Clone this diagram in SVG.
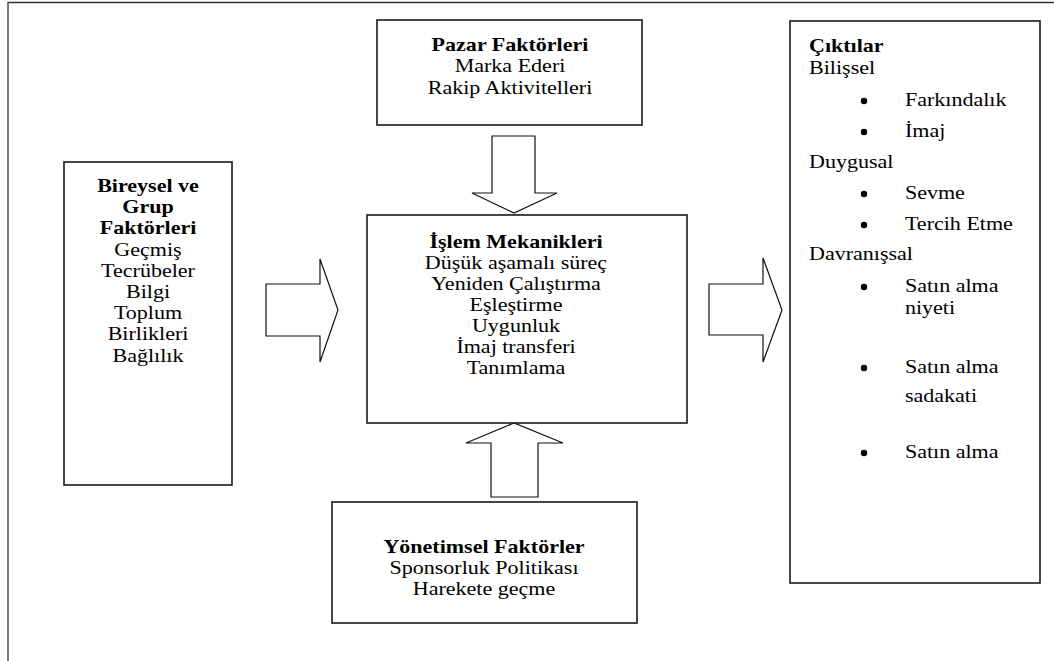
<svg xmlns="http://www.w3.org/2000/svg" width="1054" height="661" viewBox="0 0 1054 661">
  <style>
    .box { fill: #fff; stroke: #1a1a1a; stroke-width: 1.6; }
    .arrow { fill: #fff; stroke: #111; stroke-width: 1.2; stroke-linejoin: miter; }
    .frame { fill: none; stroke: #333; stroke-width: 1.3; }
    .t { font-family: "Liberation Serif", "Times New Roman", serif; font-size: 19px; fill: #000; }
    .c { text-anchor: middle; }
    .b { font-weight: bold; }
    .dot { fill: #000; }
  </style>

  <!-- page frame -->
  <path class="frame" d="M8,661 V2.5 H1054"/>

  <!-- block arrows -->
  <g id="connectors">
    <polygon class="arrow" points="492,136 535,136 535,193 557,193 514,213 472,193 492,193"/>
    <polygon class="arrow" points="491,497 538,497 538,443 563,443 514,423 466,443 491,443"/>
    <polygon class="arrow" points="266,284 320,284 320,259 338,310 320,362 320,336 266,336"/>
    <polygon class="arrow" points="709,284 763,284 763,258 782,310 763,362 763,335 709,335"/>
  </g>

  <!-- text is set slightly wide: scale(1.16 1) -->
  <g id="pazar">
    <rect class="box" x="377" y="20" width="265" height="105"/>
    <g transform="translate(510 0) scale(1.16 1)">
      <text class="t c b" x="0" y="51">Pazar Faktörleri</text>
      <text class="t c" x="0" y="72">Marka Ederi</text>
      <text class="t c" x="0" y="94">Rakip Aktivitelleri</text>
    </g>
  </g>

  <g id="bireysel">
    <rect class="box" x="64" y="162" width="168" height="323"/>
    <g transform="translate(148 0) scale(1.16 1)">
      <text class="t c b" x="0" y="192">Bireysel ve</text>
      <text class="t c b" x="0" y="213">Grup</text>
      <text class="t c b" x="0" y="234">Faktörleri</text>
      <text class="t c" x="0" y="256">Geçmiş</text>
      <text class="t c" x="0" y="277">Tecrübeler</text>
      <text class="t c" x="0" y="298">Bilgi</text>
      <text class="t c" x="0" y="319">Toplum</text>
      <text class="t c" x="0" y="340">Birlikleri</text>
      <text class="t c" x="0" y="362">Bağlılık</text>
    </g>
  </g>

  <g id="islem">
    <rect class="box" x="367" y="215" width="320" height="208"/>
    <g transform="translate(516 0) scale(1.16 1)">
      <text class="t c b" x="0" y="248">İşlem Mekanikleri</text>
      <text class="t c" x="0" y="269">Düşük aşamalı süreç</text>
      <text class="t c" x="0" y="290">Yeniden Çalıştırma</text>
      <text class="t c" x="0" y="311">Eşleştirme</text>
      <text class="t c" x="0" y="332">Uygunluk</text>
      <text class="t c" x="0" y="353">İmaj transferi</text>
      <text class="t c" x="0" y="374">Tanımlama</text>
    </g>
  </g>

  <g id="yonetimsel">
    <rect class="box" x="332" y="502" width="305" height="121"/>
    <g transform="translate(484 0) scale(1.16 1)">
      <text class="t c b" x="0" y="553">Yönetimsel Faktörler</text>
      <text class="t c" x="0" y="574">Sponsorluk Politikası</text>
      <text class="t c" x="0" y="595">Harekete geçme</text>
    </g>
  </g>

  <g id="ciktilar">
    <rect class="box" x="790" y="21" width="250" height="562"/>
    <circle class="dot" cx="864" cy="101" r="3.2"/>
    <circle class="dot" cx="864" cy="132" r="3.2"/>
    <circle class="dot" cx="864" cy="194" r="3.2"/>
    <circle class="dot" cx="864" cy="225" r="3.2"/>
    <circle class="dot" cx="864" cy="287" r="3.2"/>
    <circle class="dot" cx="864" cy="368" r="3.2"/>
    <circle class="dot" cx="864" cy="453" r="3.2"/>
    <g transform="translate(790 0) scale(1.16 1)">
      <text class="t b" x="16.4" y="52">Çıktılar</text>
      <text class="t" x="16.4" y="74">Bilişsel</text>
      <text class="t" x="99.1" y="106">Farkındalık</text>
      <text class="t" x="99.1" y="137">İmaj</text>
      <text class="t" x="16.4" y="168">Duygusal</text>
      <text class="t" x="99.1" y="199">Sevme</text>
      <text class="t" x="99.1" y="230">Tercih Etme</text>
      <text class="t" x="16.4" y="260">Davranışsal</text>
      <text class="t" x="99.1" y="292">Satın alma</text>
      <text class="t" x="99.1" y="314">niyeti</text>
      <text class="t" x="99.1" y="373">Satın alma</text>
      <text class="t" x="99.1" y="402">sadakati</text>
      <text class="t" x="99.1" y="458">Satın alma</text>
    </g>
  </g>
</svg>
